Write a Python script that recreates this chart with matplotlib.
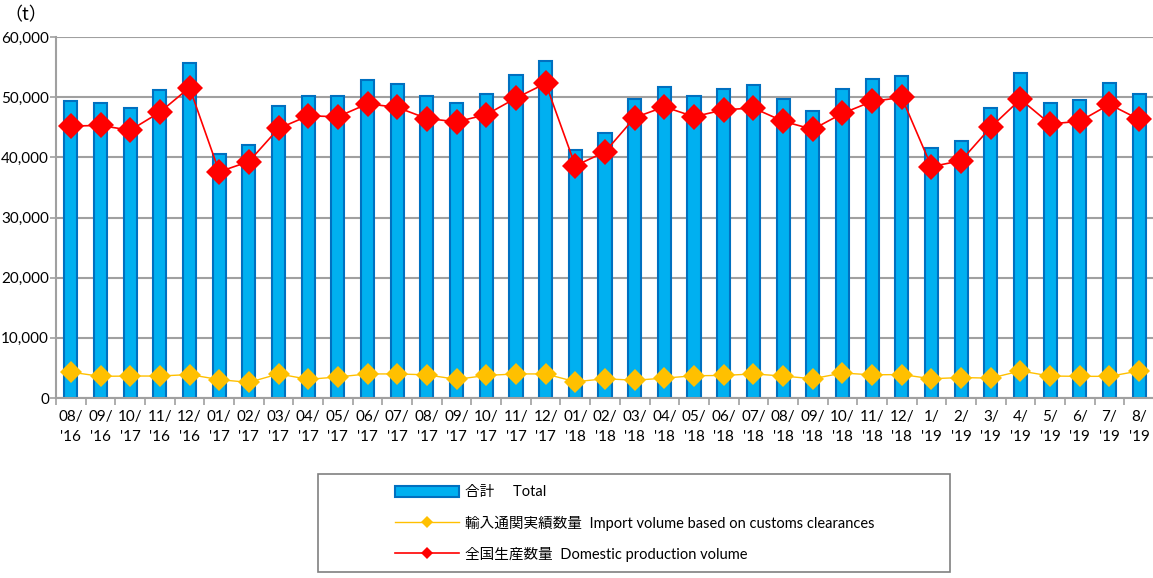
import numpy as np
import matplotlib
matplotlib.use("Agg")
import matplotlib.pyplot as plt
from matplotlib.lines import Line2D
from matplotlib.patches import Patch, Rectangle

plt.rcParams['font.family'] = ['Lato', 'Noto Sans CJK JP', 'DejaVu Sans']

# Monthly tonnage, Aug 2016 - Aug 2019
months = ["08/\n'16", "09/\n'16", "10/\n'17", "11/\n'16", "12/\n'16",
          "01/\n'17", "02/\n'17", "03/\n'17", "04/\n'17", "05/\n'17",
          "06/\n'17", "07/\n'17", "08/\n'17", "09/\n'17", "10/\n'17",
          "11/\n'17", "12/\n'17", "01/\n'18", "02/\n'18", "03/\n'18",
          "04/\n'18", "05/\n'18", "06/\n'18", "07/\n'18", "08/\n'18",
          "09/\n'18", "10/\n'18", "11/\n'18", "12/\n'18", "1/\n'19",
          "2/\n'19", "3/\n'19", "4/\n'19", "5/\n'19", "6/\n'19",
          "7/\n'19", "8/\n'19"]

total = [49400, 49000, 48200, 51200, 55700, 40600, 42000, 48500, 50200, 50200,
         52900, 52200, 50200, 49000, 50500, 53700, 56000, 41200, 44000, 49700,
         51700, 50200, 51400, 52000, 49700, 47700, 51300, 53000, 53600, 41500,
         42700, 48200, 54000, 49000, 49500, 52400, 50500]

imports = [4300, 3600, 3650, 3650, 3900, 3050, 2600, 4000, 3100, 3500,
           4000, 4000, 3850, 3100, 3750, 4000, 4000, 2700, 3200, 2950,
           3300, 3700, 3750, 4000, 3650, 3200, 4150, 3850, 3900, 3200,
           3400, 3300, 4500, 3650, 3600, 3600, 4500]

domestic = [45200, 45300, 44500, 47500, 51600, 37600, 39300, 44800, 46900, 46750,
            48900, 48300, 46450, 45900, 47100, 49850, 52300, 38600, 40900, 46600,
            48400, 46750, 47900, 48200, 46000, 44650, 47300, 49300, 49950, 38450,
            39450, 45000, 49650, 45550, 46000, 48800, 46300]

BAR_FACE = '#00B0F0'
BAR_EDGE = '#0070C0'
IMP_COLOR = '#FFC000'
DOM_COLOR = '#FF0000'
GRID = '#A0A0A0'

fig = plt.figure(figsize=(11.53, 5.78), dpi=100)
ax = fig.add_axes([56 / 1153, 1 - 398 / 578, 1098 / 1153, 361 / 578])

x = np.arange(len(months))
ax.bar(x, total, width=0.44, color=BAR_FACE, edgecolor=BAR_EDGE, linewidth=1.5, zorder=2)
ax.plot(x, imports, color=IMP_COLOR, lw=1.0, marker='D', ms=11,
        markeredgewidth=0, zorder=3)
ax.plot(x, domestic, color=DOM_COLOR, lw=1.2, marker='D', ms=13,
        markeredgewidth=0, zorder=4)

ax.set_xlim(-0.5, len(months) - 0.5)
ax.set_ylim(0, 60000)
ax.set_yticks(np.arange(0, 60001, 10000))
ax.set_yticklabels([f'{v:,}' for v in range(0, 60001, 10000)], fontsize=11)
ax.yaxis.grid(True, color=GRID, lw=1.5, zorder=0)
ax.set_axisbelow(True)

ax.set_xticks(x)
ax.set_xticklabels(months, fontsize=11, linespacing=1.5)
ax.set_xticks(np.arange(-0.5, len(months), 1), minor=True)
ax.tick_params(axis='x', which='major', length=0, pad=9)
ax.tick_params(axis='x', which='minor', length=5, color=GRID, width=1.2)
ax.tick_params(axis='y', length=4, color=GRID, width=1.2, pad=1)

for side in ('top', 'right'):
    ax.spines[side].set_visible(False)
for side in ('left', 'bottom'):
    ax.spines[side].set_color(GRID)
    ax.spines[side].set_linewidth(1.5)

fig.text(4 / 1153, 1 - 15 / 578, '（t）', fontsize=13, va='center', ha='left',
         family=['Noto Sans CJK JP', 'DejaVu Sans'])

# legend box
fig.patches.append(Rectangle((318 / 1153, 1 - 572 / 578), 632 / 1153, 98 / 578,
                             transform=fig.transFigure, fill=False,
                             edgecolor='#808080', lw=1.2))

handles = [
    Patch(facecolor=BAR_FACE, edgecolor=BAR_EDGE, linewidth=1.5),
    Line2D([], [], color=IMP_COLOR, lw=1.0, marker='D', ms=6, markeredgewidth=0),
    Line2D([], [], color=DOM_COLOR, lw=1.2, marker='D', ms=6, markeredgewidth=0),
]
labels = ['合計     Total',
          '輸入通関実績数量  Import volume based on customs clearances',
          '全国生産数量  Domestic production volume']
leg = fig.legend(handles, labels, loc='upper left',
                 bbox_to_anchor=(388 / 1153, 1 - 478 / 578),
                 frameon=False, handlelength=4.4, handleheight=0.8,
                 handletextpad=0.4, labelspacing=1.1, borderpad=0,
                 prop={'family': ['Lato', 'Noto Sans CJK JP'], 'size': 10.5})

fig.savefig('out.png', dpi=100)
